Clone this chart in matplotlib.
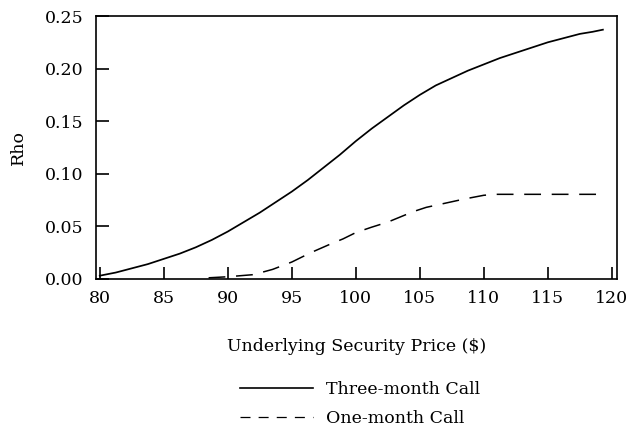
import matplotlib
matplotlib.use("Agg")
import matplotlib.pyplot as plt
from matplotlib.lines import Line2D

plt.rcParams.update({
    "font.family": "serif",
    "font.serif": ["DejaVu Serif"],
    "font.size": 12.5,
})

# Rho of a call option vs. underlying price
price_3m = [80, 81.25, 82.5, 83.75, 85, 86.25, 87.5, 88.75, 90, 91.25, 92.5,
            93.75, 95, 96.25, 97.5, 98.75, 100, 101.25, 102.5, 103.75, 105,
            106.25, 107.5, 108.75, 110, 111.25, 112.5, 113.75, 115, 116.25,
            117.5, 118.5, 119.3]
rho_3m = [0.003, 0.006, 0.010, 0.014, 0.019, 0.024, 0.030, 0.037, 0.045,
          0.054, 0.063, 0.073, 0.083, 0.094, 0.106, 0.118, 0.131, 0.143,
          0.154, 0.165, 0.175, 0.184, 0.191, 0.198, 0.204, 0.210, 0.215,
          0.220, 0.225, 0.229, 0.233, 0.235, 0.237]

price_1m = [88.5, 90, 92, 93.5, 95, 96.5, 98, 99, 100, 101.2, 102.5, 103.5,
            104.5, 105.5, 107, 108.5, 110, 111, 119.3]
rho_1m = [0.001, 0.002, 0.004, 0.009, 0.016, 0.025, 0.033, 0.038, 0.044,
          0.049, 0.054, 0.059, 0.064, 0.068, 0.072, 0.076, 0.0795, 0.0804,
          0.0804]

x_ticks = [80, 85, 90, 95, 100, 105, 110, 115, 120]
y_ticks = [0.00, 0.05, 0.10, 0.15, 0.20, 0.25]

fig = plt.figure(figsize=(6.27, 4.33), dpi=100)
ax = fig.add_axes([0.153, 0.356, 0.831, 0.607])

ax.plot(price_3m, rho_3m, color="black", lw=1.25)
ax.plot(price_1m, rho_1m, color="black", lw=1.1, dashes=(11, 7))

ax.set_xlim(79.7, 120.4)
ax.set_ylim(0, 0.25)
ax.set_xticks(x_ticks)
ax.set_yticks(y_ticks)
ax.set_yticklabels([f"{v:.2f}" for v in y_ticks])
ax.tick_params(direction="in", length=9, width=1.2, color="black")
ax.tick_params(axis="y", pad=9)
ax.tick_params(axis="x", pad=8)
for s in ax.spines.values():
    s.set_linewidth(1.2)

ax.set_xlabel("Underlying Security Price ($)", labelpad=22)
ax.set_ylabel("Rho", labelpad=13)

handles = [
    Line2D([], [], color="black", lw=1.2),
    Line2D([], [], color="black", lw=0.9, dashes=(8, 6.5)),
]
fig.legend(handles, ["Three-month Call", "One-month Call"],
           loc="upper left", bbox_to_anchor=(0.383, 0.12),
           frameon=False, borderpad=0, borderaxespad=0,
           handlelength=4.2, handletextpad=0.75, labelspacing=0.68)

fig.savefig("out.png", dpi=100)
